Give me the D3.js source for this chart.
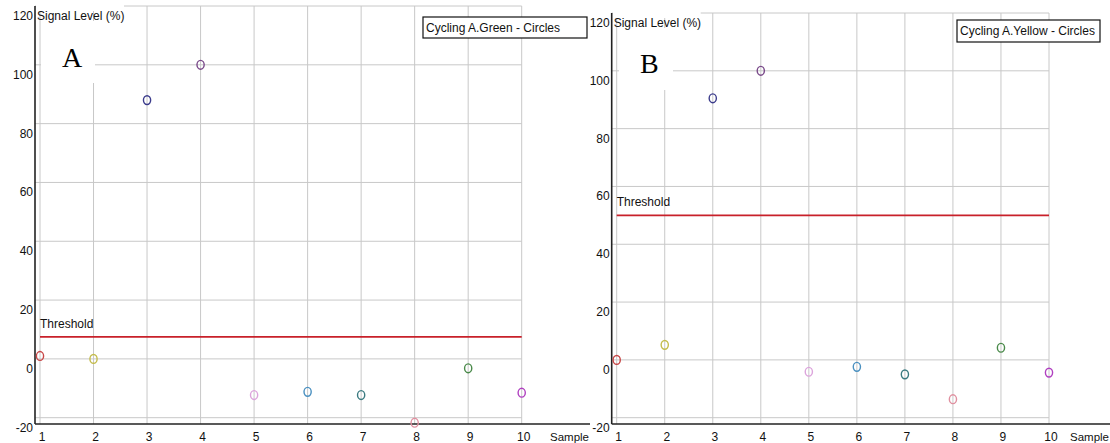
<!DOCTYPE html>
<html>
<head>
<meta charset="utf-8">
<script src="https://cdn.jsdelivr.net/npm/d3@7"></script>
<style>
  html, body { margin: 0; padding: 0; background: #fff; }
  svg { display: block; font-family: "Liberation Sans", Arial, sans-serif; }
</style>
</head>
<body>
<svg id="chart" width="1110" height="443"></svg>
<script>
// Samples along the x axis
const samples = [1, 2, 3, 4, 5, 6, 7, 8, 9, 10];
// Signal level (%) per sample, green channel
const greenValues = [1, 0, 88, 100, -12.3, -11.2, -12.3, -21.7, -3.2, -11.5];
// Signal level (%) per sample, yellow channel
const yellowValues = [0, 5.2, 90.5, 100, -4.1, -2.4, -5, -13.6, 4.2, -4.4];
// Threshold levels
const greenThreshold = 7.5;
const yellowThreshold = 50;
// Y axis ticks
const yTicks = [-20, 0, 20, 40, 60, 80, 100, 120];
// Marker colour per sample
const sampleColors = ["#c84848", "#c4bc4c", "#3c3c8c", "#7a4a8a", "#dca4dc",
                      "#4a90c0", "#3a7a80", "#e090a0", "#4a8a4a", "#b040c0"];

const svg = d3.select("#chart");

function drawPanel(cfg) {
  const g = svg.append("g");
  const x = d3.scaleLinear().domain([1, 10]).range([cfg.x1, cfg.x10]);
  const y = d3.scaleLinear().domain([-20, 120]).range([cfg.yBottom, cfg.yTop]);

  // grid
  g.append("g").selectAll("line.h").data(yTicks).join("line")
    .attr("x1", cfg.axisX).attr("x2", cfg.x10)
    .attr("y1", d => y(d)).attr("y2", d => y(d))
    .attr("stroke", "#c8c8c8").attr("stroke-width", 1);
  g.append("g").selectAll("line.v").data(samples).join("line")
    .attr("x1", d => x(d)).attr("x2", d => x(d))
    .attr("y1", y(120)).attr("y2", cfg.axisY)
    .attr("stroke", "#c8c8c8").attr("stroke-width", 1);

  // white patches behind the panel letter and the axis title
  g.append("rect").attr("x", cfg.letterBox[0]).attr("y", cfg.letterBox[1])
    .attr("width", cfg.letterBox[2]).attr("height", cfg.letterBox[3]).attr("fill", "#fff");
  g.append("rect").attr("x", cfg.axisX + 1).attr("y", y(120) - 3)
    .attr("width", 88).attr("height", 8).attr("fill", "#fff");

  // threshold
  g.append("line")
    .attr("x1", x(1)).attr("x2", x(10))
    .attr("y1", y(cfg.threshold)).attr("y2", y(cfg.threshold))
    .attr("stroke", "#c8202a").attr("stroke-width", 1.6);
  g.append("text").attr("x", x(1)).attr("y", y(cfg.threshold) - 9)
    .attr("font-size", 12).attr("fill", "#111").text("Threshold");

  // axes
  g.append("line").attr("x1", cfg.axisX).attr("x2", cfg.axisX)
    .attr("y1", y(120)).attr("y2", cfg.axisY)
    .attr("stroke", "#222").attr("stroke-width", 1.6);
  g.append("line").attr("x1", cfg.axisX).attr("x2", cfg.axisEnd)
    .attr("y1", cfg.axisY).attr("y2", cfg.axisY)
    .attr("stroke", "#222").attr("stroke-width", 1.6);

  // y tick labels
  g.append("g").selectAll("text").data(yTicks).join("text")
    .attr("x", cfg.axisX - 2).attr("y", d => y(d) + 14)
    .attr("text-anchor", "end").attr("font-size", 12).attr("fill", "#111")
    .text(d => d);
  g.append("text").attr("x", cfg.axisX + 2).attr("y", y(120) + 14)
    .attr("font-size", 12).attr("fill", "#111").text("Signal Level (%)");

  // x tick labels
  g.append("g").selectAll("text").data(samples).join("text")
    .attr("x", d => x(d) + 2).attr("y", 441)
    .attr("text-anchor", "middle").attr("font-size", 12).attr("fill", "#111")
    .text(d => d);
  g.append("text").attr("x", cfg.sampleX).attr("y", 441)
    .attr("font-size", 11.5).attr("fill", "#111").text("Sample");

  // panel letter
  g.append("text").attr("x", cfg.letterX).attr("y", cfg.letterY)
    .attr("font-family", "'Liberation Serif', 'DejaVu Serif', serif")
    .attr("font-size", 28).attr("fill", "#000").text(cfg.letter);

  // legend box
  g.append("rect").attr("x", cfg.legend[0]).attr("y", cfg.legend[1])
    .attr("width", cfg.legend[2]).attr("height", cfg.legend[3])
    .attr("fill", "#fff").attr("stroke", "#111").attr("stroke-width", 1.2);
  g.append("text").attr("x", cfg.legend[0] + 3).attr("y", cfg.legend[1] + cfg.legend[3] / 2 + 4)
    .attr("font-size", 12).attr("fill", "#111").text(cfg.legendText);

  // sample markers
  g.append("g").selectAll("ellipse").data(cfg.values).join("ellipse")
    .attr("cx", (d, i) => x(samples[i]))
    .attr("cy", d => y(d))
    .attr("rx", 3.6).attr("ry", 4.4)
    .attr("fill", "none")
    .attr("stroke", (d, i) => sampleColors[i])
    .attr("stroke-width", 1.4);
}

drawPanel({
  values: greenValues, threshold: greenThreshold, letter: "A",
  legendText: "Cycling A.Green - Circles",
  x1: 40, x10: 521.7, yBottom: 417.7, yTop: 6,
  axisX: 35, axisY: 424, axisEnd: 590, sampleX: 550,
  letterBox: [41, 21, 54, 62], letterX: 62, letterY: 67,
  legend: [423, 17, 164, 21]
});

drawPanel({
  values: yellowValues, threshold: yellowThreshold, letter: "B",
  legendText: "Cycling A.Yellow - Circles",
  x1: 616.7, x10: 1049, yBottom: 417.7, yTop: 13,
  axisX: 611.7, axisY: 424, axisEnd: 1110, sampleX: 1070,
  letterBox: [619, 28, 54, 62], letterX: 640, letterY: 73,
  legend: [957, 20, 143, 22]
});
</script>
</body>
</html>
